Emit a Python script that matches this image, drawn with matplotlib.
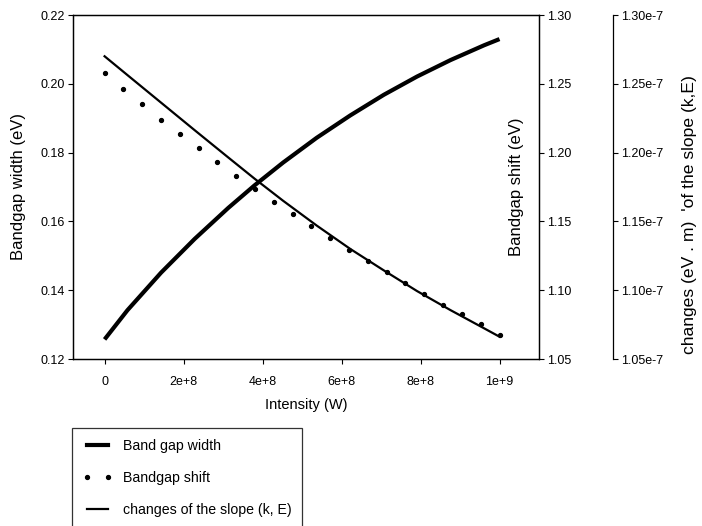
import matplotlib
matplotlib.use("Agg")
import matplotlib.pyplot as plt
from matplotlib.lines import Line2D
from matplotlib.ticker import FuncFormatter

plt.rcParams['font.family'] = ['Liberation Sans', 'DejaVu Sans']

# ---- data ----
# Band gap width (left axis, eV)
width_x = [0.0, 0.58e8, 1.43e8, 2.28e8, 3.13e8, 3.80e8, 4.52e8, 5.37e8, 6.22e8,
           7.07e8, 7.91e8, 8.76e8, 9.61e8, 1.0e9]
width_y = [0.1257, 0.1342, 0.1451, 0.1549, 0.1639, 0.1705, 0.1771, 0.1843, 0.1908,
           0.1968, 0.2021, 0.2069, 0.2112, 0.2130]

# Bandgap shift (right axis, eV), 22 points 0..1e9
shift_x = [i * 1e9 / 21 for i in range(22)]
shift_y = [1.2581, 1.2464, 1.2351, 1.2239, 1.2135, 1.2031, 1.1930, 1.1832, 1.1735,
           1.1643, 1.1554, 1.1464, 1.1377, 1.1292, 1.1212, 1.1132, 1.1050, 1.0972,
           1.0895, 1.0825, 1.0752, 1.0677]

# changes of the slope (k,E) (third axis, eV.m)
slope_x = [0.0, 0.58e8, 1.43e8, 2.28e8, 3.13e8, 3.80e8, 4.52e8, 5.37e8, 6.22e8,
           7.07e8, 7.91e8, 8.76e8, 9.61e8, 1.0e9]
slope_y = [1.2700e-7, 1.2563e-7, 1.2363e-7, 1.2163e-7, 1.1965e-7, 1.1810e-7,
           1.1650e-7, 1.1470e-7, 1.1300e-7, 1.1144e-7, 1.0994e-7, 1.0855e-7,
           1.0723e-7, 1.0662e-7]

x_ticks = [0, 2e8, 4e8, 6e8, 8e8, 1e9]
x_tick_labels = ["0", "2e+8", "4e+8", "6e+8", "8e+8", "1e+9"]
left_ticks = [0.12, 0.14, 0.16, 0.18, 0.20, 0.22]
right_ticks = [1.05, 1.10, 1.15, 1.20, 1.25, 1.30]
third_ticks = [1.05e-7, 1.10e-7, 1.15e-7, 1.20e-7, 1.25e-7, 1.30e-7]

legend_labels = ["Band gap width", "Bandgap shift", "changes of the slope (k, E)"]

# ---- figure ----
W, H = 702, 526
fig = plt.figure(figsize=(W / 100, H / 100), dpi=100)
ax = fig.add_axes([73 / W, 1 - 359 / H, (539 - 73) / W, (359 - 15) / H])
ax2 = ax.twinx()
ax3 = ax.twinx()

tick_kw = dict(direction='out', length=3.6, width=0.8, labelsize=9, pad=2.5)

ax.plot(width_x, width_y, color='black', lw=3.0, solid_capstyle='butt',
        solid_joinstyle='round')
ax.set_xlim(-0.8e8, 1.1e9)
ax.set_ylim(0.12, 0.22)
ax.set_xticks(x_ticks)
ax.set_xticklabels(x_tick_labels)
ax.set_yticks(left_ticks)
ax.yaxis.set_major_formatter(FuncFormatter(lambda v, _: f"{v:.2f}"))
ax.tick_params(axis='both', **tick_kw)
ax.tick_params(axis='x', pad=8.5)
ax.set_xlabel("Intensity (W)", fontsize=10.5)
ax.set_ylabel("Bandgap width (eV)", fontsize=12)
ax.yaxis.set_label_coords(-0.101, 0.5)
ax.xaxis.set_label_coords(0.5, -0.113)

ax2.plot(shift_x, shift_y, linestyle='none', marker='o', markersize=2.8,
         color='black')
ax2.set_ylim(1.05, 1.30)
ax2.set_yticks(right_ticks)
ax2.yaxis.set_major_formatter(FuncFormatter(lambda v, _: f"{v:.2f}"))
ax2.tick_params(axis='y', **tick_kw)
ax2.set_ylabel("Bandgap shift (eV)", fontsize=12)
ax2.yaxis.set_label_coords(0.936, 0.5)

ax3.plot(slope_x, slope_y, color='black', lw=1.6, solid_joinstyle='round')
ax3.set_ylim(1.05e-7, 1.30e-7)
ax3.set_yticks(third_ticks)
ax3.yaxis.set_major_formatter(FuncFormatter(lambda v, _: f"{v * 1e7:.2f}e-7"))
ax3.spines['right'].set_position(('outward', 74 * 72 / 100))
for s in ['top', 'bottom', 'left']:
    ax3.spines[s].set_visible(False)
ax3.tick_params(axis='y', **tick_kw)
ax3.set_ylabel("changes (eV . m)  'of the slope (k,E)", fontsize=12.6)
ax3.yaxis.set_label_coords(1.306, 0.419)

for a in (ax, ax2, ax3):
    for s in a.spines.values():
        s.set_linewidth(0.9)

handles = [
    Line2D([], [], color='black', lw=3.0),
    Line2D([], [], color='black', linestyle='none', marker='o', markersize=2.8),
    Line2D([], [], color='black', lw=1.6),
]
leg = fig.legend(handles, legend_labels, loc='upper left',
                 bbox_to_anchor=(72 / W, 1 - 428 / H), fontsize=10.2,
                 frameon=True, fancybox=False, edgecolor='black',
                 handlelength=2.1, handletextpad=0.75, labelspacing=1.3,
                 borderpad=0.75, borderaxespad=0.0, numpoints=2)
leg.get_frame().set_linewidth(0.9)

fig.savefig("out.png", dpi=100)
